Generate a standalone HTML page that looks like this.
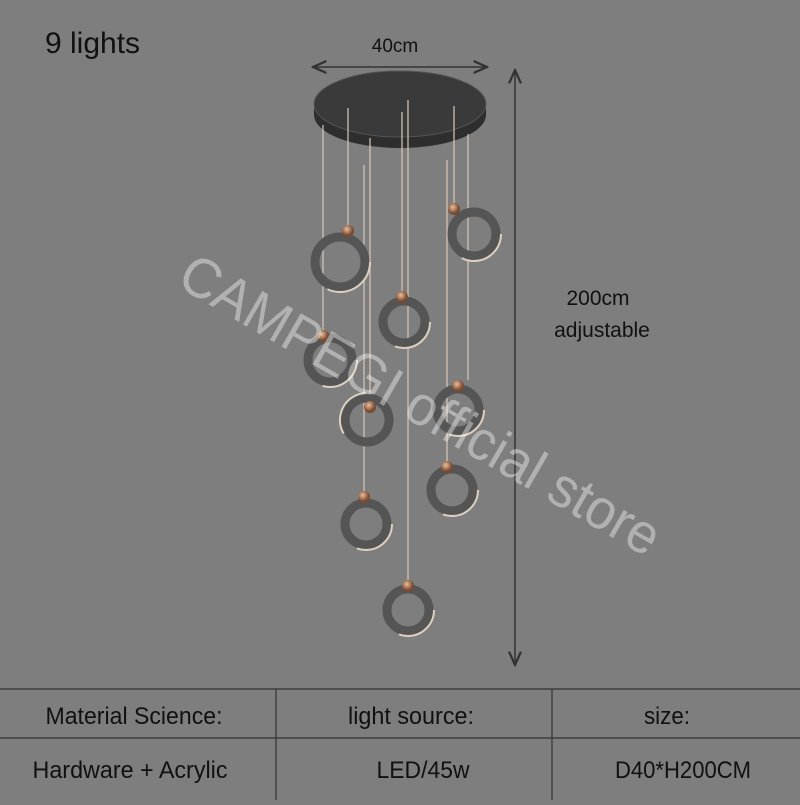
<!DOCTYPE html>
<html><head><style>
body{margin:0;width:800px;height:800px;background:#7e7e7e;overflow:hidden;font-family:"Liberation Sans",sans-serif}
</style></head><body>
<svg width="800" height="800" xmlns="http://www.w3.org/2000/svg">
<defs>
<marker id="ah" markerWidth="10" markerHeight="10" refX="9" refY="5" orient="auto-start-reverse"><path d="M0,1 L9,5 L0,9" fill="none" stroke="#333" stroke-width="1.5"/></marker>
<radialGradient id="ball" cx="40%" cy="35%"><stop offset="0" stop-color="#e8c0a0"/><stop offset="1" stop-color="#7a4a30"/></radialGradient>
</defs>
<rect width="800" height="800" fill="#7e7e7e"/>
<text x="45" y="53" font-size="30" fill="#111">9 lights</text>
<text x="395" y="52" font-size="19" fill="#111" text-anchor="middle">40cm</text>
<line x1="313" y1="67" x2="487" y2="67" stroke="#333" stroke-width="1.5" marker-start="url(#ah)" marker-end="url(#ah)"/>
<line x1="515" y1="70" x2="515" y2="665" stroke="#333" stroke-width="1.5" marker-start="url(#ah)" marker-end="url(#ah)"/>
<text x="598" y="305" font-size="21" fill="#111" text-anchor="middle">200cm</text>
<text x="602" y="337" font-size="21" fill="#111" text-anchor="middle">adjustable</text>
<ellipse cx="400" cy="115" rx="86" ry="33" fill="#2e2e2e"/>
<rect x="314" y="105" width="172" height="10" fill="#2e2e2e"/>
<ellipse cx="400" cy="104" rx="86" ry="33" fill="#3a3a3a" stroke="#555" stroke-width="1"/>
<g stroke="#d8c8b8" stroke-width="1.2">
<line x1="348" y1="108" x2="348" y2="230"/>
<line x1="454" y1="106" x2="454" y2="208"/>
<line x1="402" y1="112" x2="402" y2="295"/>
<line x1="323" y1="125" x2="323" y2="335"/>
<line x1="468" y1="134" x2="468" y2="380"/>
<line x1="370" y1="138" x2="370" y2="405"/>
<line x1="447" y1="160" x2="447" y2="465"/>
<line x1="364" y1="165" x2="364" y2="495"/>
<line x1="408" y1="100" x2="408" y2="585"/>
</g>
<g fill="none">
<g stroke="#555" stroke-width="9"><circle cx="340" cy="262" r="25"/><circle cx="474" cy="234" r="22"/><circle cx="404" cy="322" r="21"/><circle cx="330" cy="360" r="22"/><circle cx="458" cy="410" r="21"/><circle cx="367" cy="420" r="22"/><circle cx="452" cy="490" r="21"/><circle cx="366" cy="524" r="21"/><circle cx="408" cy="610" r="21"/></g>
<g stroke="#ddd0c0" stroke-width="2"><circle cx="340" cy="262" r="30" stroke-dasharray="60 200"/><circle cx="474" cy="234" r="27" stroke-dasharray="55 200"/><circle cx="404" cy="322" r="26" stroke-dasharray="50 200"/><circle cx="330" cy="360" r="27" stroke-dasharray="50 200"/><circle cx="458" cy="410" r="26" stroke-dasharray="50 200"/><circle cx="367" cy="420" r="27" stroke-dasharray="55 200" transform="rotate(150 367 420)"/><circle cx="452" cy="490" r="26" stroke-dasharray="50 200"/><circle cx="366" cy="524" r="26" stroke-dasharray="50 200"/><circle cx="408" cy="610" r="26" stroke-dasharray="50 200"/></g>
</g>
<g fill="url(#ball)"><circle cx="348" cy="231" r="6"/><circle cx="454" cy="209" r="6"/><circle cx="402" cy="297" r="6"/><circle cx="323" cy="336" r="6"/><circle cx="458" cy="386" r="6"/><circle cx="370" cy="407" r="6"/><circle cx="447" cy="467" r="6"/><circle cx="364" cy="497" r="6"/><circle cx="408" cy="586" r="6"/></g>
<text x="0" y="0" font-size="56" fill="#ffffff" fill-opacity="0.4" transform="translate(175,285) rotate(30)" textLength="545" lengthAdjust="spacingAndGlyphs">CAMPEGI official store</text>
<g stroke="#333" stroke-width="1.2">
<line x1="0" y1="689" x2="800" y2="689"/>
<line x1="0" y1="738" x2="800" y2="738"/>
<line x1="276" y1="689" x2="276" y2="800"/>
<line x1="552" y1="689" x2="552" y2="800"/>
</g>
<g font-size="24" fill="#111" text-anchor="middle" lengthAdjust="spacingAndGlyphs">
<text x="134" y="724" textLength="177" lengthAdjust="spacingAndGlyphs">Material Science:</text>
<text x="411" y="724" textLength="126" lengthAdjust="spacingAndGlyphs">light source:</text>
<text x="667" y="724" textLength="46" lengthAdjust="spacingAndGlyphs">size:</text>
<text x="130" y="778" textLength="195" lengthAdjust="spacingAndGlyphs">Hardware + Acrylic</text>
<text x="423" y="778" textLength="93" lengthAdjust="spacingAndGlyphs">LED/45w</text>
<text x="683" y="778" textLength="136" lengthAdjust="spacingAndGlyphs">D40*H200CM</text>
</g>
</svg>
</body></html>
